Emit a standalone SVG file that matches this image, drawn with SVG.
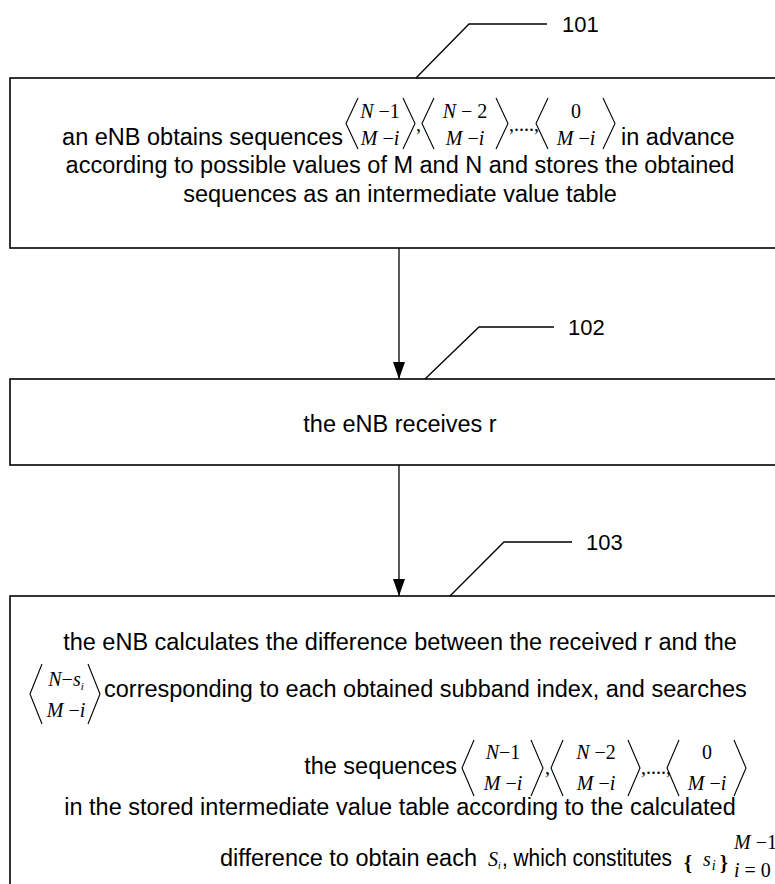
<svg xmlns="http://www.w3.org/2000/svg" width="775" height="884" viewBox="0 0 775 884">
<defs>
<style>
.box{fill:#fff;stroke:#000;stroke-width:1.6}
.ln{fill:none;stroke:#000;stroke-width:1.3}
.br{fill:none;stroke:#000;stroke-width:1.1}
.t{font-family:"Liberation Sans",Arial,sans-serif;font-size:23.5px;fill:#000}
.lbl{font-family:"Liberation Sans",Arial,sans-serif;font-size:22px;fill:#000}
.m{font-family:"Liberation Serif","Times New Roman",serif;font-size:20px;fill:#000}
.i{font-style:italic}
</style>
<marker id="ah" markerWidth="17" markerHeight="12" refX="17" refY="6" orient="auto" markerUnits="userSpaceOnUse" viewBox="0 0 17 12">
<path d="M0,0 L17,6 L0,12 Z" fill="#000"/>
</marker>
</defs>
<rect width="775" height="884" fill="#fff"/>

<g id="connectors">
<line class="ln" x1="399" y1="248" x2="399" y2="379" marker-end="url(#ah)"/>
<line class="ln" x1="399" y1="465" x2="399" y2="596" marker-end="url(#ah)"/>
</g>

<g id="node101">
<rect class="box" x="10" y="78" width="800" height="170"/>
<polyline class="ln" points="416,78 469,24 547,24"/>
<text class="lbl" x="562" y="32">101</text>
<text class="t" x="343" y="145" text-anchor="end">an eNB obtains sequences</text>
<polyline class="br" points="358,98 346,123.5 358,149"/>
<text class="m" x="380" y="118" text-anchor="middle"><tspan class="i">N</tspan> −1</text>
<text class="m" x="380" y="145" text-anchor="middle"><tspan class="i">M</tspan> −<tspan class="i">i</tspan></text>
<polyline class="br" points="403,98 415,123.5 403,149"/>
<text class="m" x="416" y="131">,</text>
<polyline class="br" points="434,98 422,123.5 434,149"/>
<text class="m" x="465" y="118" text-anchor="middle"><tspan class="i">N</tspan> − 2</text>
<text class="m" x="465" y="145" text-anchor="middle"><tspan class="i">M</tspan> −<tspan class="i">i</tspan></text>
<polyline class="br" points="496,98 508,123.5 496,149"/>
<text class="m" x="509" y="131">,....,</text>
<polyline class="br" points="548,98 536,123.5 548,149"/>
<text class="m" x="576" y="118" text-anchor="middle">0</text>
<text class="m" x="576" y="145" text-anchor="middle"><tspan class="i">M</tspan> −<tspan class="i">i</tspan></text>
<polyline class="br" points="603,98 615,123.5 603,149"/>
<text class="t" x="621" y="145">in advance</text>
<text class="t" x="400" y="173" text-anchor="middle">according to possible values of M and N and stores the obtained</text>
<text class="t" x="400" y="202" text-anchor="middle">sequences as an intermediate value table</text>
</g>

<g id="node102">
<rect class="box" x="10" y="379" width="800" height="86"/>
<polyline class="ln" points="425,379 479,327 554,327"/>
<text class="lbl" x="568" y="335">102</text>
<text class="t" x="400" y="432" text-anchor="middle">the eNB receives r</text>
</g>

<g id="node103">
<rect class="box" x="10" y="596" width="800" height="300"/>
<polyline class="ln" points="450,596 504,542 572,542"/>
<text class="lbl" x="586" y="550">103</text>
<text class="t" x="400" y="650" text-anchor="middle">the eNB calculates the difference between the received r and the</text>
<polyline class="br" points="42,664 30,694 42,724"/>
<text class="m" x="66" y="686" text-anchor="middle"><tspan class="i">N</tspan>−<tspan class="i">s</tspan><tspan class="i" font-size="11" dy="4">i</tspan></text>
<text class="m" x="66" y="717" text-anchor="middle"><tspan class="i">M</tspan> −<tspan class="i">i</tspan></text>
<polyline class="br" points="88,664 100,694 88,724"/>
<text class="t" x="104" y="697">corresponding to each obtained subband index, and searches</text>
<text class="t" x="457" y="774" text-anchor="end">the sequences</text>
<polyline class="br" points="474,740 462,768 474,796"/>
<text class="m" x="503" y="759" text-anchor="middle"><tspan class="i">N</tspan>−1</text>
<text class="m" x="503" y="790" text-anchor="middle"><tspan class="i">M</tspan> −<tspan class="i">i</tspan></text>
<polyline class="br" points="531,740 543,768 531,796"/>
<text class="m" x="545" y="774">,</text>
<polyline class="br" points="563,740 551,768 563,796"/>
<text class="m" x="596" y="759" text-anchor="middle"><tspan class="i">N</tspan> −2</text>
<text class="m" x="596" y="790" text-anchor="middle"><tspan class="i">M</tspan> −<tspan class="i">i</tspan></text>
<polyline class="br" points="628,740 640,768 628,796"/>
<text class="m" x="641" y="774">,....,</text>
<polyline class="br" points="679,740 667,768 679,796"/>
<text class="m" x="707" y="759" text-anchor="middle">0</text>
<text class="m" x="707" y="790" text-anchor="middle"><tspan class="i">M</tspan> −<tspan class="i">i</tspan></text>
<polyline class="br" points="734,740 746,768 734,796"/>
<text class="t" x="400" y="815" text-anchor="middle">in the stored intermediate value table according to the calculated</text>
<text class="t" x="220" y="866">difference to obtain each</text>
<text class="m" x="488" y="866"><tspan class="i">S</tspan><tspan class="i" font-size="10" dy="3">i</tspan></text>
<text class="t" x="502" y="866" textLength="170" lengthAdjust="spacingAndGlyphs">, which constitutes</text>
<text class="m" x="684" y="870" font-size="32" font-weight="bold">{</text>
<text class="m" x="703" y="866" font-size="22"><tspan class="i">s</tspan><tspan class="i" font-size="14" dx="1" dy="4">i</tspan></text>
<text class="m" x="720" y="870" font-size="32" font-weight="bold">}</text>
<text class="m" x="734" y="849" font-size="11.5"><tspan class="i">M</tspan> −1</text>
<text class="m" x="734" y="877" font-size="11.5"><tspan class="i">i</tspan> = 0</text>
</g>
</svg>
